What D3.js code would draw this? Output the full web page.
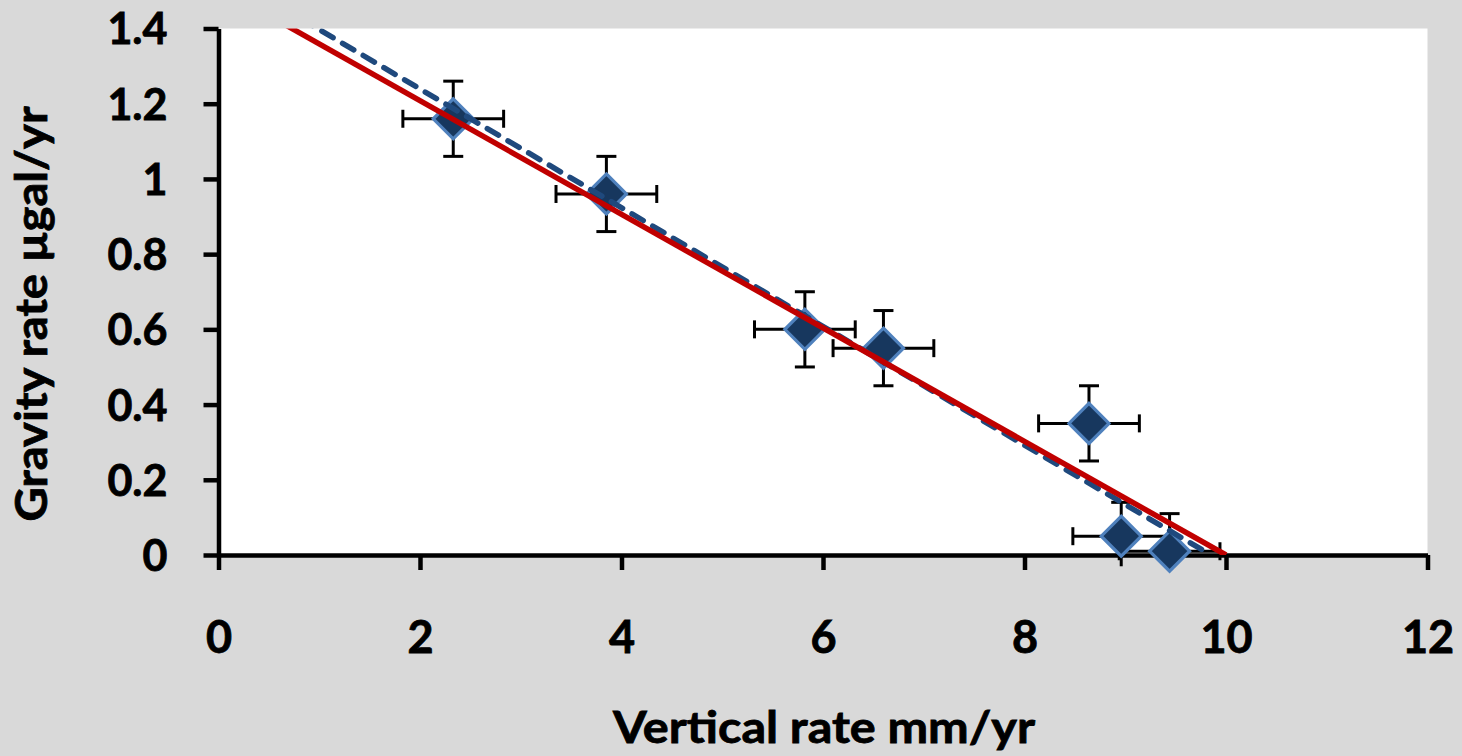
<!DOCTYPE html>
<html><head><meta charset="utf-8">
<script src="https://cdn.jsdelivr.net/npm/d3@7"></script>
<style>
html,body{margin:0;padding:0;background:#d9d9d9;}
svg{display:block;}
text{font-family:Lato,"Open Sans",sans-serif;font-weight:700;fill:#000;}
</style></head>
<body>
<svg id="chart" width="1462" height="756"></svg>
<script>
// ---- data ----
const vertRate   = [2.33, 3.85, 5.82, 6.60, 8.64, 8.96, 9.44];   // mm/yr
const gravRate   = [1.16, 0.96, 0.60, 0.55, 0.35, 0.05, 0.01];   // µgal/yr
const vertErr    = [0.50, 0.50, 0.50, 0.50, 0.50, 0.48, 0.50];
const gravErr    = [0.10, 0.10, 0.10, 0.10, 0.10, 0.09, 0.10];
const redLineX   = [0, 10];
const redLineY   = [1.51, 0];
const dashLineX  = [0, 9.85];
const dashLineY  = [1.555, 0];
const xTicks     = [0, 2, 4, 6, 8, 10, 12];
const yTicks     = [0, 0.2, 0.4, 0.6, 0.8, 1, 1.2, 1.4];
const xTitle     = "Vertical rate mm/yr";
const yTitle     = "Gravity rate µgal/yr";

const svg = d3.select("#chart");
const x = d3.scaleLinear().domain([0, 12]).range([218.5, 1427.5]);
const y = d3.scaleLinear().domain([0, 1.4]).range([555, 28.5]);

// plot area
svg.append("rect").attr("x", x(0)).attr("y", y(1.4))
  .attr("width", x(12) - x(0)).attr("height", y(0) - y(1.4)).attr("fill", "#fff");

svg.append("defs").append("clipPath").attr("id", "clip")
  .append("rect").attr("x", x(0)).attr("y", y(1.4))
  .attr("width", x(12) - x(0)).attr("height", y(0) - y(1.4));

const pts = vertRate.map((v, i) => ({x: v, y: gravRate[i], ex: vertErr[i], ey: gravErr[i]}));

// error bars
const eb = svg.append("g").attr("stroke", "#000").attr("stroke-width", 3).attr("fill", "none");
const capX = 10, capY = 9;
pts.forEach(p => {
  const y0 = Math.max(p.y - p.ey, -0.03);
  eb.append("line").attr("x1", x(p.x - p.ex)).attr("x2", x(p.x + p.ex)).attr("y1", y(p.y)).attr("y2", y(p.y));
  eb.append("line").attr("x1", x(p.x)).attr("x2", x(p.x)).attr("y1", y(y0)).attr("y2", y(p.y + p.ey));
  eb.append("line").attr("x1", x(p.x - p.ex)).attr("x2", x(p.x - p.ex)).attr("y1", y(p.y) - capY).attr("y2", y(p.y) + capY);
  eb.append("line").attr("x1", x(p.x + p.ex)).attr("x2", x(p.x + p.ex)).attr("y1", y(p.y) - capY).attr("y2", y(p.y) + capY);
  eb.append("line").attr("x1", x(p.x) - capX).attr("x2", x(p.x) + capX).attr("y1", y(p.y + p.ey)).attr("y2", y(p.y + p.ey));
  if (p.y - p.ey >= -0.03) {
    eb.append("line").attr("x1", x(p.x) - capX).attr("x2", x(p.x) + capX).attr("y1", y(p.y - p.ey)).attr("y2", y(p.y - p.ey));
  }
});

// axes
const xAxis = svg.append("g").attr("transform", `translate(0,${y(0)})`)
  .call(d3.axisBottom(x).tickValues(xTicks).tickFormat(d3.format("d")).tickSizeInner(15).tickSizeOuter(0));
xAxis.select(".domain").attr("stroke", "#000").attr("stroke-width", 4.5);
xAxis.selectAll(".tick line").attr("stroke", "#000").attr("stroke-width", 4.5);
xAxis.selectAll(".tick text").attr("y", 98).attr("dy", 0).style("font-size", "45px")
  .style("font-family", "Lato,'Open Sans',sans-serif").style("font-weight", 700)
  .attr("fill", "#000").attr("stroke", "#000").attr("stroke-width", 0.8);

const yAxis = svg.append("g").attr("transform", `translate(${x(0)},0)`)
  .call(d3.axisLeft(y).tickValues(yTicks).tickFormat(d => d3.format("")(+d.toFixed(1))).tickSizeInner(15).tickSizeOuter(0).tickPadding(36));
yAxis.select(".domain").attr("stroke", "#000").attr("stroke-width", 4.5);
yAxis.selectAll(".tick line").attr("stroke", "#000").attr("stroke-width", 4.5);
yAxis.selectAll(".tick text").attr("dy", "0.36em").style("font-size", "43px")
  .style("font-family", "Lato,'Open Sans',sans-serif").style("font-weight", 700)
  .attr("fill", "#000").attr("stroke", "#000").attr("stroke-width", 0.8);

// markers
const r = 20;
svg.append("g").selectAll("path").data(pts).join("path")
  .attr("d", d => `M${x(d.x)},${y(d.y) - r}L${x(d.x) + r},${y(d.y)}L${x(d.x)},${y(d.y) + r}L${x(d.x) - r},${y(d.y)}Z`)
  .attr("fill", "#17375e").attr("stroke", "#4f81bd").attr("stroke-width", 3.2).attr("stroke-linejoin", "miter");

// lines
const lineG = svg.append("g").attr("clip-path", "url(#clip)");
const line = d3.line().x(d => x(d[0])).y(d => y(d[1]));
lineG.append("path").datum(dashLineX.map((v, i) => [v, dashLineY[i]]))
  .attr("d", line).attr("fill", "none").attr("stroke", "#1f497d").attr("stroke-width", 5.5)
  .attr("stroke-dasharray", "13,11").attr("stroke-linecap", "round");
lineG.append("path").datum(redLineX.map((v, i) => [v, redLineY[i]]))
  .attr("d", line).attr("fill", "none").attr("stroke", "#c00000").attr("stroke-width", 5.5);

// titles
svg.append("text").attr("x", 824).attr("y", 743).attr("text-anchor", "middle")
  .style("font-size", "44px").attr("stroke", "#000").attr("stroke-width", 0.8)
  .attr("textLength", 422).attr("lengthAdjust", "spacingAndGlyphs").text(xTitle);
svg.append("text").attr("transform", "translate(47,314) rotate(-90)").attr("text-anchor", "middle")
  .style("font-size", "44px").attr("stroke", "#000").attr("stroke-width", 0.8)
  .attr("textLength", 415).attr("lengthAdjust", "spacingAndGlyphs").text(yTitle);
</script>
</body></html>
